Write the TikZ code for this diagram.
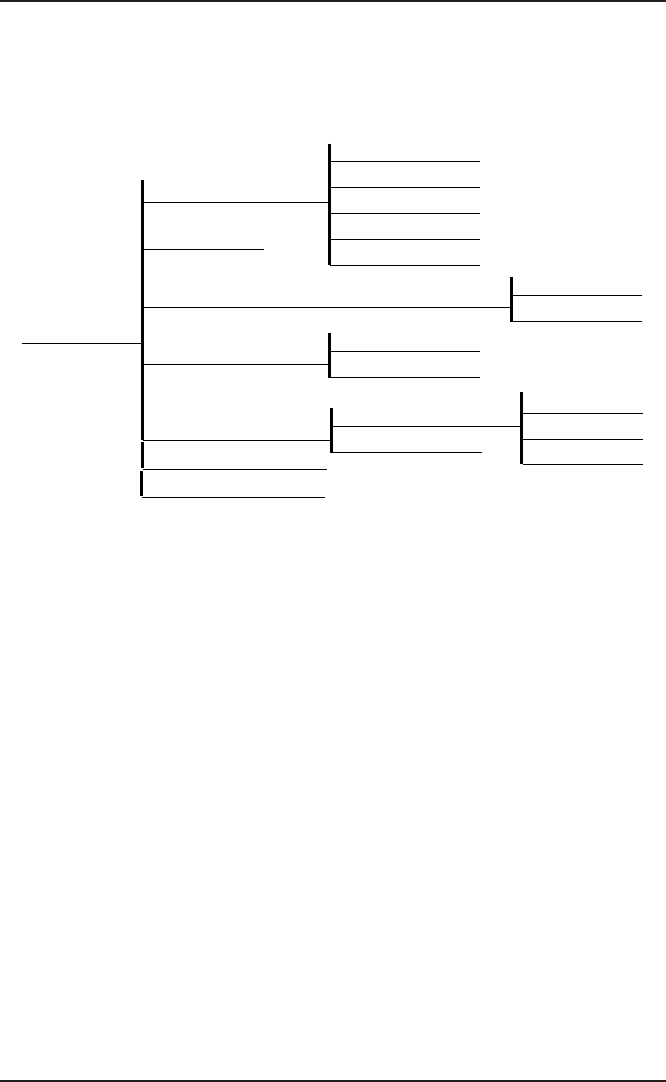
\documentclass[tikz,border=0pt]{standalone}
\usepackage{xcolor}
\definecolor{rulec}{HTML}{231F20}
\begin{document}
\begin{tikzpicture}[x=1pt,y=-1pt,
  thin line/.style={line width=1pt,black},
  bar/.style={line width=3pt,black},
  pagerule/.style={line width=2pt,rulec}]
\useasboundingbox (0,0) rectangle (666,1082);
% page rules
\draw[pagerule] (0,1) -- (666,1);
\draw[pagerule] (0,1081) -- (666,1081);
% root
\coordinate (r0) at (22,343.5);
\coordinate (r1) at (142,343.5);
\draw[thin line] (r0) -- (r1);
% main bar segments
\draw[bar] (142.5,180) -- (142.5,440);
\draw[bar] (142.5,442) -- (142.5,468);
\draw[bar] (141.5,470.5) -- (141.5,496);
% branches from main bar
\draw[thin line] (143,202.5) -- (328,202.5);
\draw[thin line] (143,249.5) -- (264,249.5);
\draw[thin line] (143,307.5) -- (511,307.5);
\draw[thin line] (143,364.5) -- (328,364.5);
\draw[thin line] (143,440.5) -- (331,440.5);
\draw[thin line] (143,469.5) -- (327,469.5);
\draw[thin line] (142,497.5) -- (325,497.5);
% group A
\draw[bar] (329.5,143.5) -- (329.5,265);
\foreach \y in {161.5,187.5,213.5,239.5,265.5}
  \draw[thin line] (330,\y) -- (480,\y);
% group B
\draw[bar] (511.5,277) -- (511.5,322);
\foreach \y in {295.5,321.5}
  \draw[thin line] (512,\y) -- (642,\y);
% group C
\draw[bar] (329.5,333) -- (329.5,377.5);
\foreach \y in {351.5,377.5}
  \draw[thin line] (330,\y) -- (480,\y);
% group D
\draw[bar] (331.5,408) -- (331.5,452.5);
\draw[thin line] (332,426.5) -- (521,426.5);
\draw[thin line] (332,452.5) -- (482,452.5);
% group E
\draw[bar] (521.5,392) -- (521.5,464);
\foreach \y in {413.5,439.5,464.5}
  \draw[thin line] (523,\y) -- (642.5,\y);
\end{tikzpicture}
\end{document}
